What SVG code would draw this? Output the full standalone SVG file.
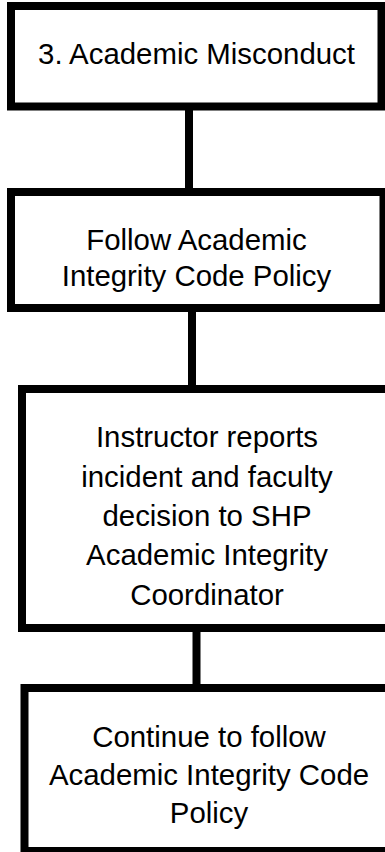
<svg xmlns="http://www.w3.org/2000/svg" width="385" height="852" viewBox="0 0 385 852">
<style>
.box{fill:#fff;stroke:#000;stroke-width:8}
.conn{stroke:#000;stroke-width:8;fill:none}
.t{font-family:"Liberation Sans",Arial,sans-serif;font-size:29.4px;fill:#000;text-anchor:middle}
</style>
<rect width="385" height="852" fill="#fff"/>
<g id="connectors">
<line class="conn" x1="189" y1="110" x2="189" y2="189"/>
<line class="conn" x1="192" y1="311" x2="192" y2="386"/>
<line class="conn" x1="196.5" y1="631" x2="196.5" y2="685"/>
</g>
<g id="n1">
<rect class="box" x="11" y="6" width="370.5" height="100.5"/>
<text class="t" x="196.5" y="64">3. Academic Misconduct</text>
</g>
<g id="n2">
<rect class="box" x="11" y="192" width="372.5" height="116"/>
<text class="t" x="196.5" y="250">Follow Academic</text>
<text class="t" x="196.5" y="286">Integrity Code Policy</text>
</g>
<g id="n3">
<rect class="box" x="22" y="389" width="380" height="239"/>
<text class="t" x="207" y="447">Instructor reports</text>
<text class="t" x="207" y="487">incident and faculty</text>
<text class="t" x="207" y="526">decision to SHP</text>
<text class="t" x="207" y="565">Academic Integrity</text>
<text class="t" x="207" y="605">Coordinator</text>
</g>
<g id="n4">
<rect class="box" x="24.5" y="688" width="380" height="163"/>
<text class="t" x="209" y="747">Continue to follow</text>
<text class="t" x="209" y="785">Academic Integrity Code</text>
<text class="t" x="209" y="823">Policy</text>
</g>
</svg>
